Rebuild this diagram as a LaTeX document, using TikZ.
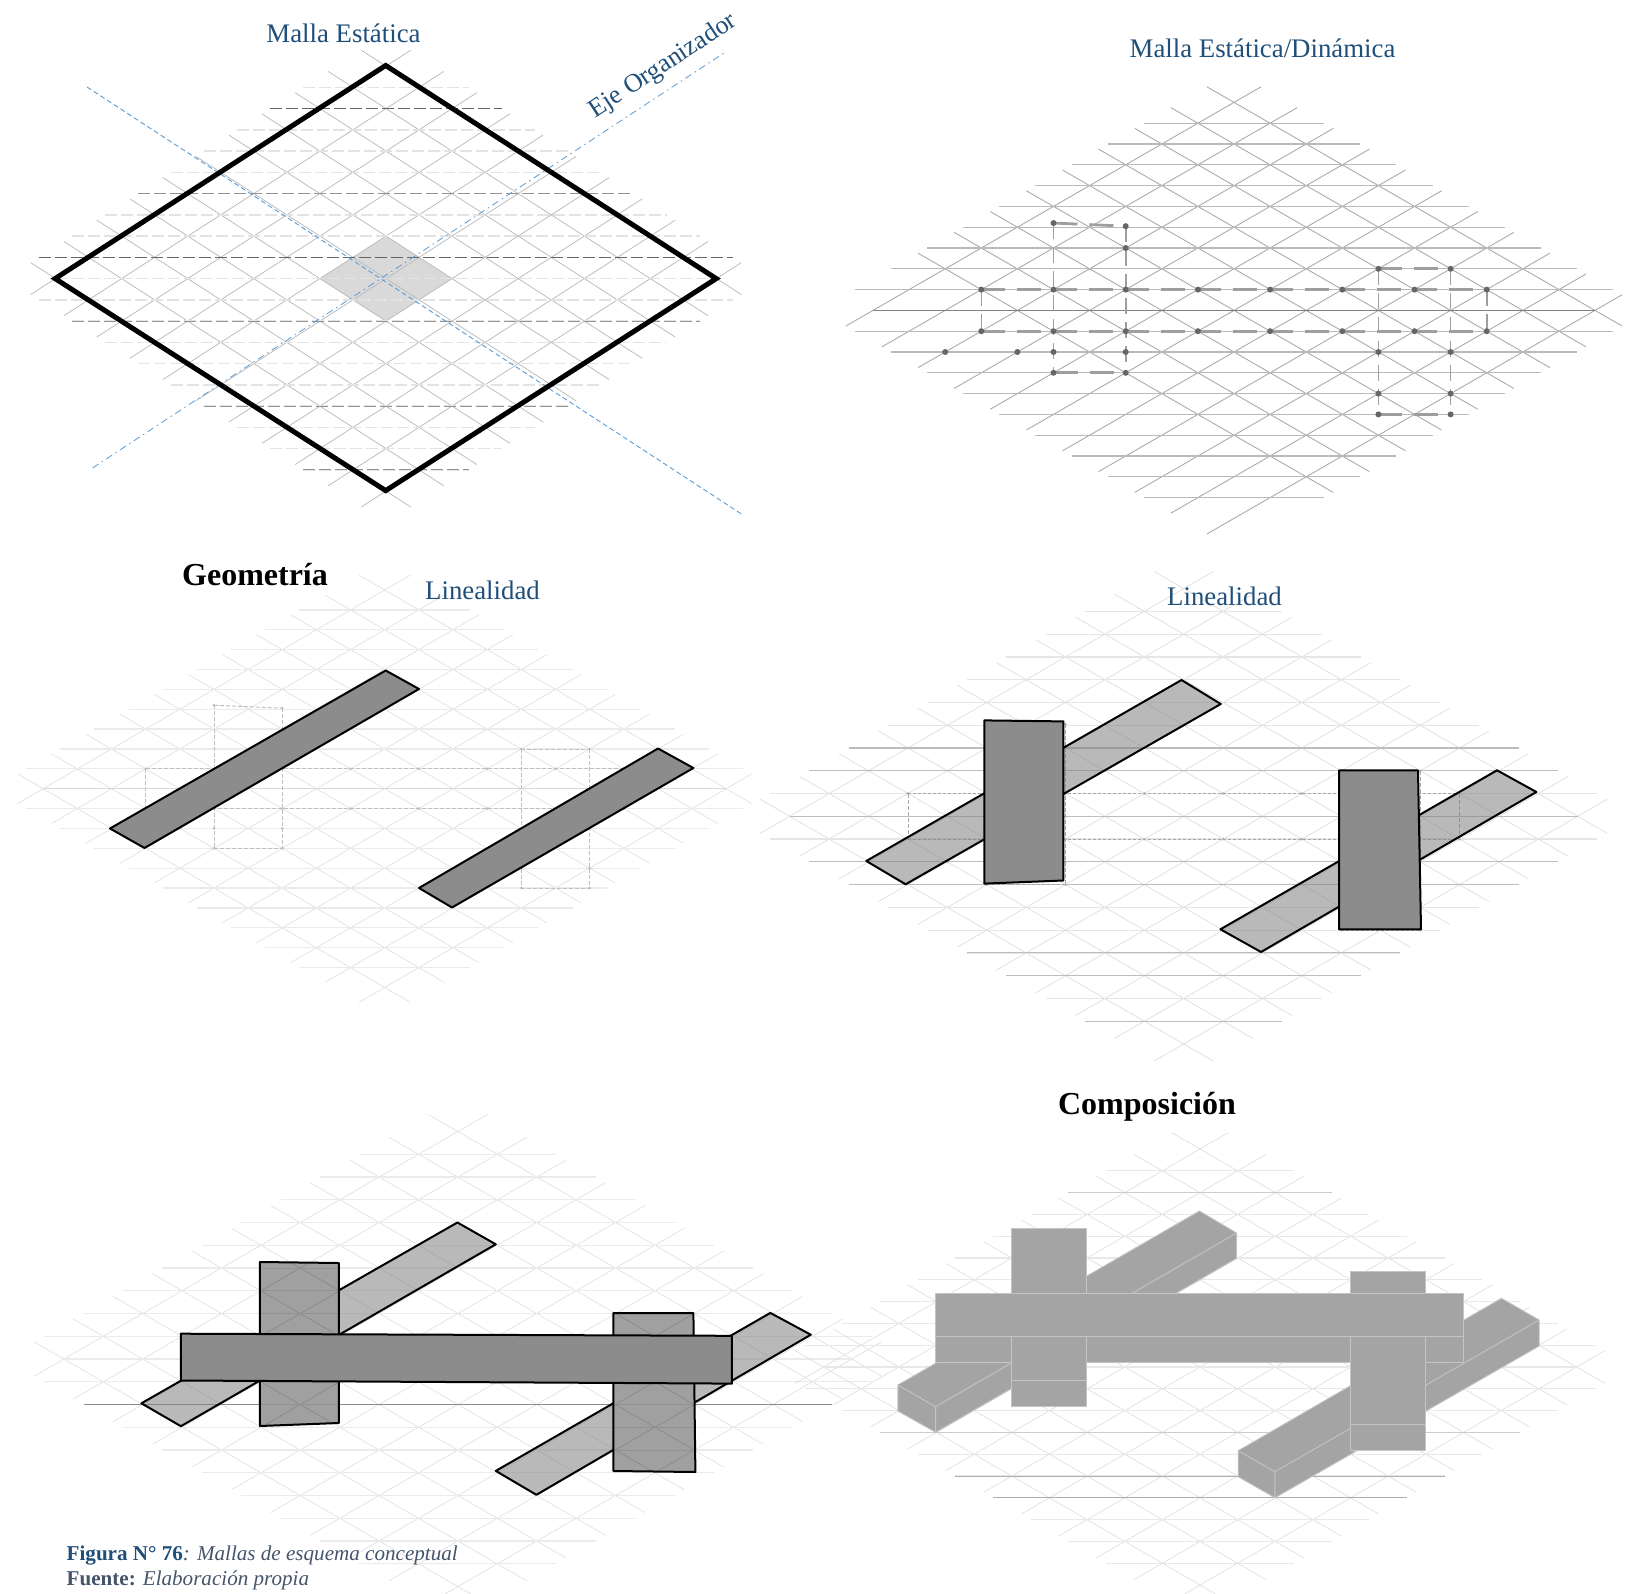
\documentclass[tikz,border=0pt]{standalone}
\usepackage{fontspec}
\setmainfont{Liberation Serif}
\definecolor{azultitulo}{HTML}{1F4E79}
\definecolor{azulcaption}{HTML}{44546A}
\definecolor{azuleje}{HTML}{5B9BD5}
\definecolor{grisbarra}{HTML}{8C8C8C}
\definecolor{grismedio}{HTML}{A0A0A0}
\definecolor{grisvolumen}{HTML}{A4A4A4}
\tikzset{
  titulo/.style={text=azultitulo, font=\fontsize{26.8}{30}\selectfont},
  seccion/.style={text=black, font=\fontsize{32}{36}\selectfont\bfseries},
  nota/.style={anchor=base west, inner sep=0pt, font=\fontsize{21.1}{25}\selectfont},
  barra/.style={draw=black, line width=2pt, fill=grisbarra, line join=round},
  barraclara/.style={draw=black, line width=2pt, fill=black!50, fill opacity=.55, line join=round},
  borde/.style={draw=black, line width=2pt, line join=round},
  volumen/.style={draw=black!23, line width=.9pt, fill=grisvolumen, line join=round},
  punto/.style={circle, fill=black!60, inner sep=0pt, minimum size=6pt},
}
% cx, cy, dx, dy, diagonales, filas, ultima diagonal
\newcommand{\malla}[7]{
  \foreach \i in {-5,...,5} {
    \draw[#5] ({#1+(\i+5.75)*#3},{#2+(\i-5.75)*#4}) -- ({#1+(\i-5.75)*#3},{#2+(\i+5.75)*#4});
  }
  \foreach \j in {-5,...,#7} {
    \draw[#5] ({#1+(-5.75-\j)*#3},{#2+(-5.75+\j)*#4}) -- ({#1+(5.75-\j)*#3},{#2+(5.75+\j)*#4});
  }
  \foreach \k in {-9,...,9} {
    \pgfmathsetmacro{\ancho}{\k==0 ? 10 : 11.5-abs(\k)}
    \draw[#6] ({#1-\ancho*#3},{#2+\k*#4}) -- ({#1+\ancho*#3},{#2+\k*#4});
  }
}
% cx, cy, dx, dy, estilo, lista de filas
\newcommand{\mallafilas}[6]{
  \foreach \k in {#6} {
    \pgfmathsetmacro{\ancho}{\k==0 ? 10 : 11.5-abs(\k)}
    \draw[#5] ({#1-\ancho*#3},{#2+\k*#4}) -- ({#1+\ancho*#3},{#2+\k*#4});
  }
}
% cx, cy, dx, dy, verticales, horizontales, puntos
\newcommand{\mallaejes}[7]{
  \foreach \m/\ka/\kb in {-7/-1/1, -5/-4.2/3, -3/-4.05/3, 4/-2/5, 6/-2/5, 7/-1/1} {
    \draw[#5] ({#1+\m*#3},{#2+\ka*#4}) -- ({#1+\m*#3},{#2+\kb*#4});
  }
  \foreach \k/\ma/\mb in {-1/-7/7, 1/-7/7, -2/4/6, 5/4/6, 3/-5/-3} {
    \draw[#6] ({#1+\ma*#3},{#2+\k*#4}) -- ({#1+\mb*#3},{#2+\k*#4});
  }
  \draw[#6] ({#1-5*#3},{#2-4.2*#4}) -- ({#1-3*#3},{#2-4.05*#4});
  \foreach \m/\k in {-7/-1, -5/-1, -3/-1, -1/-1, 1/-1, 3/-1, 5/-1, 7/-1,
                     -7/1, -5/1, -3/1, -1/1, 1/1, 3/1, 5/1, 7/1,
                     -8/2, -6/2, -5/2, -3/2, 4/2, 6/2, -3/-3, -5/3, -3/3,
                     4/-2, 6/-2, 4/4, 6/4, 4/5, 6/5, -5/-4.2, -3/-4.05} {
    \node[punto, #7] (p\m\k) at ({#1+\m*#3},{#2+\k*#4}) {};
  }
}
\begin{document}
\begin{tikzpicture}[x=1pt, y=-1pt]
  \useasboundingbox (0,0) rectangle (1630,1594);

  % malla estatica
  \fill[black!15] (386,236.1) -- (452.1,278.6) -- (386,321.1) -- (319.9,278.6) -- cycle;
  \malla{386}{278.6}{33.05}{21.25}{black!26, line width=.8pt}{black!11, line width=1.4pt, dash pattern=on 12pt off 4pt}{5}
  \mallafilas{386}{278.6}{33.05}{21.25}{black!60, line width=1pt, dash pattern=on 12pt off 4pt}{-8,-1}
  \mallafilas{386}{278.6}{33.05}{21.25}{black!42, line width=1pt, dash pattern=on 12pt off 4pt}{-4,2,6,9}
  \draw[azuleje, line width=.9pt, dash pattern=on 5pt off 3pt] (87,87) -- (743,515);
  \draw[azuleje, line width=.8pt, dash pattern=on 7pt off 4pt on 1.5pt off 4pt] (92.5,468) -- (725.5,52);
  \draw[black, line width=5pt, line join=miter] (385.7,65.5) -- (716.2,278.6) -- (385.7,490.6) -- (55.1,278.6) -- cycle;
  \node[titulo] (tituloestatica) at (343.5,33) {Malla Estática};
  \node[titulo, rotate=33.3, font=\fontsize{26}{30}\selectfont] (tituloeje) at (663.5,66.5) {Eje Organizador};

  % malla estatica/dinamica
  \malla{1234}{310.4}{36.1}{20.8}{black!33, line width=.9pt}{black!27, line width=1.3pt}{3}
  \mallafilas{1234}{310.4}{36.1}{20.8}{black!50, line width=1pt}{0}
  \mallaejes{1234}{310.4}{36.1}{20.8}{black!38, line width=1.6pt, dash pattern=on 16pt off 8pt}{black!38, line width=2.8pt, dash pattern=on 24pt off 12pt}{}
  \node[titulo] (titulomixta) at (1262.5,48) {Malla Estática/Dinámica};

  % linealidad izquierda
  \malla{384.7}{788.7}{34.15}{19.87}{black!12, line width=.7pt}{black!8, line width=1.3pt}{5}
  \mallafilas{384.7}{788.7}{34.15}{19.87}{black!15, line width=1.2pt}{0}
  \mallaejes{384.7}{788.7}{34.15}{19.87}{black!25, line width=.8pt, dash pattern=on 4pt off 2pt}{black!25, line width=.9pt, dash pattern=on 4pt off 2pt}{minimum size=3pt, fill=black!25}
  \draw[barra] (385.7,670.5) -- (419,689) -- (144.5,848) -- (110,828.5) -- cycle;
  \draw[barra] (658,748.5) -- (693.4,768) -- (452,907.5) -- (419,888) -- cycle;
  \node[seccion] (tituloGeometria) at (255,575) {Geometría};
  \node[titulo] (titulolinealA) at (482.5,590) {Linealidad};

  % linealidad derecha
  \malla{1183.7}{816.3}{39.4}{22.77}{black!15, line width=.6pt}{black!10, line width=1.2pt}{5}
  \mallafilas{1183.7}{816.3}{39.4}{22.77}{black!26, line width=1.1pt}{-3,-2,0,2,3,6,7,9}
  \mallaejes{1183.7}{816.3}{39.4}{22.77}{black!35, line width=.8pt, dash pattern=on 4pt off 2pt}{black!35, line width=.9pt, dash pattern=on 3pt off 2pt}{minimum size=3pt, fill=black!30}
  \draw[barraclara] (1181.5,680) -- (1220.8,704) -- (905.6,884.3) -- (866.3,861) -- cycle;
  \draw[barraclara] (1497,770.3) -- (1536.4,792) -- (1261,952) -- (1220.4,929.3) -- cycle;
  \draw[barra] (984.4,720.4) -- (1063.4,721.4) -- (1063.4,880.5) -- (984.4,883.6) -- cycle;
  \draw[barra] (1339,770.3) -- (1418,770.3) -- (1421,929.3) -- (1339,929.3) -- cycle;
  \node[titulo] (titulolinealB) at (1224.5,596) {Linealidad};

  % conjunto inferior izquierdo
  \malla{457.9}{1359}{39.4}{22.75}{black!14, line width=.55pt}{black!8, line width=1.1pt}{5}
  \mallafilas{457.9}{1359}{39.4}{22.75}{black!45, line width=1pt}{2}
  \draw[barraclara] (457.4,1222.5) -- (495.8,1244.3) -- (180.9,1426.2) -- (141.4,1403.3) -- cycle;
  \draw[barraclara] (770.3,1312.9) -- (810.8,1334.7) -- (536.4,1494.8) -- (495.8,1470.9) -- cycle;
  \begin{scope}
    \clip (259.9,1262) -- (338.9,1263) -- (338.9,1423) -- (259.9,1426) -- cycle;
    \fill[grismedio] (259.9,1262) -- (338.9,1263) -- (338.9,1423) -- (259.9,1426) -- cycle;
    \malla{457.9}{1359}{39.4}{22.75}{black!47, line width=.6pt}{black!43, line width=1pt}{5}
  \end{scope}
  \begin{scope}
    \clip (613.3,1313) -- (693.4,1313) -- (695.4,1472) -- (613.3,1471) -- cycle;
    \fill[grismedio] (613.3,1313) -- (693.4,1313) -- (695.4,1472) -- (613.3,1471) -- cycle;
    \malla{457.9}{1359}{39.4}{22.75}{black!47, line width=.6pt}{black!43, line width=1pt}{5}
  \end{scope}
  \draw[borde] (259.9,1262) -- (338.9,1263) -- (338.9,1423) -- (259.9,1426) -- cycle;
  \draw[borde] (613.3,1313) -- (693.4,1313) -- (695.4,1472) -- (613.3,1471) -- cycle;
  \draw[barra] (180.9,1333.7) -- (731.8,1335.8) -- (731.8,1383.6) -- (180.9,1380.5) -- cycle;

  % composicion
  \malla{1200}{1367}{37.65}{21.8}{black!15, line width=.55pt}{black!9, line width=1.2pt}{5}
  \mallafilas{1200}{1367}{37.65}{21.8}{black!20, line width=1pt}{-8,3}
  \mallafilas{1200}{1367}{37.65}{21.8}{black!32, line width=1pt}{5,6}
  \draw[volumen] (897.9,1385) -- (1199.4,1211) -- (1236.6,1233) -- (1236.6,1258.3) -- (935.6,1432.3) -- (897.9,1411) -- cycle;
  \draw[volumen] (897.9,1385) -- (935.6,1406.7) -- (1236.6,1233) (935.6,1406.7) -- (935.6,1432.3);
  \draw[volumen] (1238.2,1450.7) -- (1501.4,1298.3) -- (1539.2,1320) -- (1539.2,1346) -- (1274.9,1497.7) -- (1238.2,1476.7) -- cycle;
  \draw[volumen] (1238.2,1450.7) -- (1274.9,1471.7) -- (1539.2,1320) (1274.9,1471.7) -- (1274.9,1497.7);
  \draw[volumen] (1011.1,1228.3) rectangle (1086.1,1293.3);
  \draw[volumen] (1350.4,1271.7) rectangle (1425.4,1293.3);
  \draw[volumen] (935.6,1293.3) rectangle (1463.7,1362.7);
  \draw[volumen] (935.6,1336.7) -- (1463.7,1336.7);
  \draw[volumen] (1011.1,1336.7) rectangle (1086.1,1406.7);
  \draw[volumen] (1011.1,1380) -- (1086.1,1380);
  \draw[volumen] (1350.4,1336.7) rectangle (1425.4,1450);
  \draw[volumen] (1350.4,1424) -- (1425.4,1424);
  \node[seccion] (tituloComposicion) at (1147,1107) {Composición};

  % pie de figura
  \node[nota] (notafigura) at (66.5,1560) {\textcolor{azultitulo}{\bfseries Figura N° 76}\textcolor{azulcaption}{\itshape: Mallas de esquema conceptual}};
  \node[nota] (notafuente) at (66.5,1585) {\textcolor{azulcaption}{\bfseries Fuente: \mdseries\itshape Elaboración propia}};
\end{tikzpicture}
\end{document}
